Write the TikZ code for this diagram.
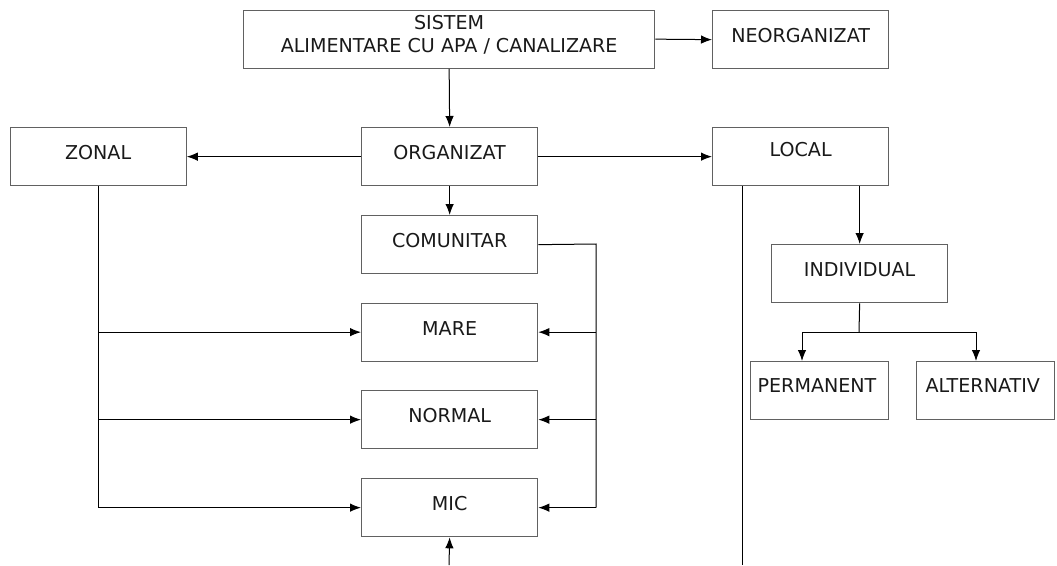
\documentclass[tikz,border=0pt]{standalone}
\usepackage{fontspec}
\setmainfont{DejaVu Sans}
\usetikzlibrary{arrows.meta}
\begin{document}
\begin{tikzpicture}[x=1pt,y=-1pt,
  box/.style={draw=black!62, line width=1.3pt, minimum width=176pt, minimum height=58pt,
    inner sep=0pt, anchor=north west, text=black!90,
    font=\fontsize{19.1}{22.7}\selectfont, text depth=8pt},
  smallbox/.style={box, minimum width=138pt, text width=124pt, inner xsep=7pt, align=left},
  link/.style={draw=black, line width=1pt},
  arr/.style={link, -{Latex[length=11pt,width=8.5pt]}}]
\useasboundingbox (0,0) rectangle (1057,565);

% boxes
\node[box, minimum width=411pt, text depth=10pt, align=center] (sistem) at (243,9.5)
  {SISTEM\\[0pt]ALIMENTARE CU APA / CANALIZARE};
\node[box] (neorg) at (712,10) {NEORGANIZAT};
\node[box] (zonal) at (9.5,127) {ZONAL};
\node[box] (organizat) at (361,127) {ORGANIZAT};
\node[box, text depth=14pt] (local) at (712,127) {LOCAL};
\node[box] (comunitar) at (361,215) {COMUNITAR};
\node[box] (mare) at (361,302.5) {MARE};
\node[box] (normal) at (361,390) {NORMAL};
\node[box] (mic) at (361,478) {MIC};
\node[box] (individual) at (771,244) {INDIVIDUAL};
\node[smallbox, text depth=10pt] (permanent) at (750,361) {PERMANENT};
\node[smallbox, text depth=10pt, inner xsep=9pt, text width=120pt] (alternativ) at (916,361) {ALTERNATIV};

% helper points for the bus lines
\coordinate (rbus) at (596,244);
\coordinate (lend) at (742,565);
\coordinate (split) at (859,332);
\coordinate (pdrop) at (802,332);
\coordinate (adrop) at (976,332);
\coordinate (micfeed) at (449,565);

% top level
\draw[arr] (sistem.east) -- (neorg.west);
\draw[arr] (sistem.south) -- (organizat.north);
\draw[arr] (organizat.west) -- (zonal.east);
\draw[arr] (organizat.east) -- (local.west);
\draw[arr] (organizat.south) -- (comunitar.north);

% zonal bus on the left
\draw[link] (zonal.south) -- (zonal.south |- mic.west);
\draw[arr] (zonal.south |- mare.west) -- (mare.west);
\draw[arr] (zonal.south |- normal.west) -- (normal.west);
\draw[arr] (zonal.south |- mic.west) -- (mic.west);

% comunitar bus on the right
\draw[link] (comunitar.east) -- (rbus) -- (rbus |- mic.east);
\draw[arr] (rbus |- mare.east) -- (mare.east);
\draw[arr] (rbus |- normal.east) -- (normal.east);
\draw[arr] (rbus |- mic.east) -- (mic.east);

% feed into MIC from below
\draw[arr] (micfeed) -- (mic.south);

% local branch
\draw[link] (lend |- local.south) -- (lend);
\draw[arr] (local.south -| individual.north) -- (individual.north);
\draw[link] (individual.south) -- (split);
\draw[link] (pdrop) -- (adrop);
\draw[arr] (pdrop) -- (pdrop |- permanent.north);
\draw[arr] (adrop) -- (adrop |- alternativ.north);
\end{tikzpicture}
\end{document}
